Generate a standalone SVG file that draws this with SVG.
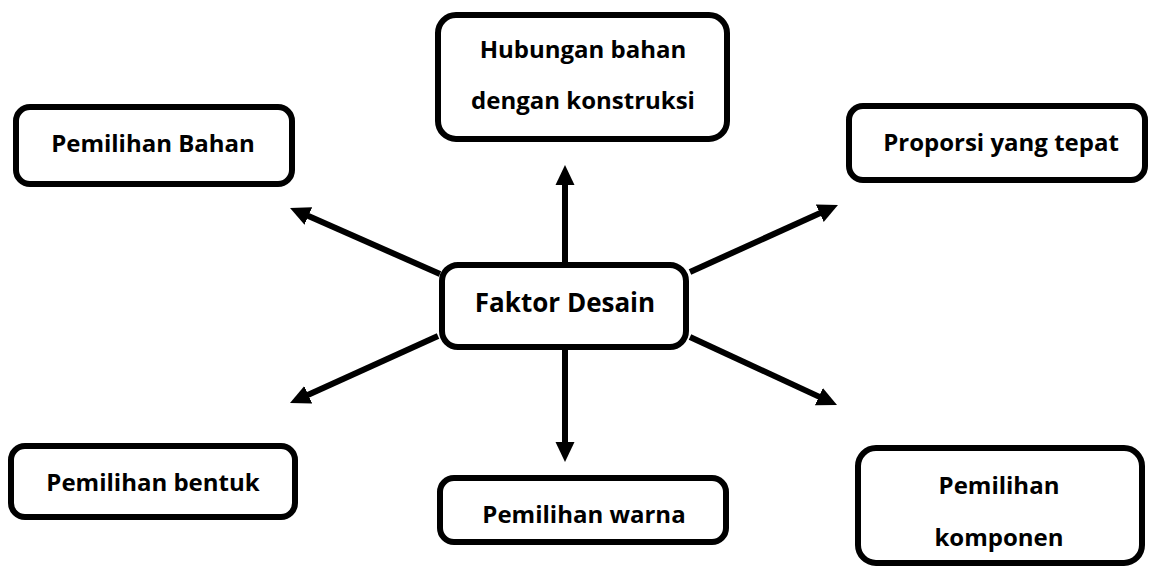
<svg xmlns="http://www.w3.org/2000/svg" width="1151" height="568" viewBox="0 0 1151 568">
<style>
.box{fill:#fff;stroke:#000;stroke-width:6}
.t{font-family:"Open Sans","Liberation Sans",sans-serif;font-weight:bold;font-size:24px;fill:#000;text-anchor:middle}
.big{font-size:26px}
.c{stroke:#000;stroke-width:6;fill:none;marker-end:url(#ah)}
</style>
<defs>
<marker id="ah" markerUnits="userSpaceOnUse" markerWidth="20" markerHeight="20" refX="3" refY="9.5" orient="auto" viewBox="0 0 20 19">
<path d="M0,0 L20,9.5 L0,19 z" fill="#000"/>
</marker>
</defs>
<rect width="1151" height="568" fill="#fff"/>
<g id="connectors">
<line class="c" x1="565" y1="262" x2="565" y2="182"/>
<line class="c" x1="565" y1="350" x2="565" y2="445"/>
<line class="c" x1="440" y1="274" x2="305.6" y2="214.8"/>
<line class="c" x1="690" y1="272" x2="822.5" y2="212"/>
<line class="c" x1="438" y1="336" x2="305.5" y2="396"/>
<line class="c" x1="690" y1="337" x2="821.6" y2="397.9"/>
</g>
<g id="faktor-desain">
<rect class="box" x="442" y="265" width="244" height="82" rx="16"/>
<text class="t big" x="565" y="312">Faktor Desain</text>
</g>
<g id="hubungan">
<rect class="box" x="438" y="15" width="289" height="124" rx="18"/>
<text class="t" x="583" y="58">Hubungan bahan</text>
<text class="t" x="583" y="109">dengan konstruksi</text>
</g>
<g id="pemilihan-bahan">
<rect class="box" x="16" y="107" width="276" height="77" rx="14"/>
<text class="t" x="153" y="152">Pemilihan Bahan</text>
</g>
<g id="proporsi">
<rect class="box" x="849" y="106" width="296" height="74" rx="14"/>
<text class="t" x="1001" y="151">Proporsi yang tepat</text>
</g>
<g id="pemilihan-bentuk">
<rect class="box" x="11" y="446" width="284" height="71" rx="14"/>
<text class="t" x="153" y="491">Pemilihan bentuk</text>
</g>
<g id="pemilihan-warna">
<rect class="box" x="440" y="478" width="286" height="64" rx="14"/>
<text class="t" x="584" y="523">Pemilihan warna</text>
</g>
<g id="pemilihan-komponen">
<rect class="box" x="858" y="448" width="284" height="115" rx="18"/>
<text class="t" x="999" y="494">Pemilihan</text>
<text class="t" x="999" y="546">komponen</text>
</g>
</svg>
